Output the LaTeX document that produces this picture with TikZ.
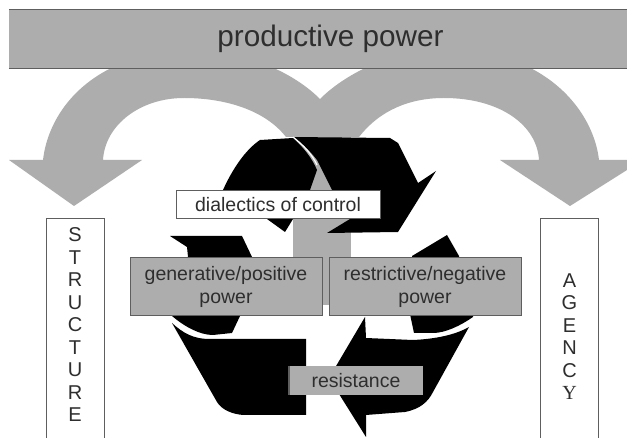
\documentclass[tikz,border=0pt]{standalone}
\usepackage{fontspec}
\setmainfont{Liberation Sans}
\newfontfamily\yfont{Liberation Serif}
\usetikzlibrary{positioning}
\definecolor{powergray}{HTML}{ADADAD}
\definecolor{edgegray}{HTML}{5E5E5E}
\definecolor{inkgray}{HTML}{2E2E2E}
\begin{document}
\begin{tikzpicture}[x=1pt, y=-1pt, every node/.style={font=\fontsize{19.5}{23}\selectfont, text=inkgray, inner sep=0pt, align=center},
  banner/.style={fill=powergray, minimum width=643pt, minimum height=58pt, font=\fontsize{29.7}{34}\selectfont},
  control/.style={draw=edgegray, line width=1pt, fill=white, minimum width=204pt, minimum height=28pt},
  power/.style={draw=edgegray, line width=1pt, fill=powergray, minimum width=192pt, minimum height=58pt},
  resist/.style={fill=powergray, minimum width=134pt, minimum height=29pt},
  sidebox/.style={draw=edgegray, line width=1pt, fill=white, anchor=north, minimum width=58pt, minimum height=226pt},
  letters/.style={font=\fontsize{20}{22.5}\selectfont},
  flow/.style={fill=powergray},
  loopshape/.style={fill=black}
]
\clip (0,0) rectangle (627,438);
\fill[white] (0,0) rectangle (627,438);

% Big arrows
\path[flow] (74,206) -- (142,160) -- (103,160) .. controls (105,125) and (140,98) .. (184,98)
  .. controls (225,98) and (265,110) .. (286,137) -- (359,137)
  .. controls (380,110) and (410,98) .. (444,98) .. controls (500,98) and (537,125) .. (539,160)
  -- (500,160) -- (570,206) -- (627,170) -- (627,160) -- (599,160)
  .. controls (595,125) and (570,85) .. (522,64) -- (374,64) .. controls (355,72) and (335,84) .. (320,99)
  .. controls (305,84) and (285,72) .. (264,64) -- (120,64)
  .. controls (70,85) and (47,125) .. (43,160) -- (9,160) -- cycle;
\path[flow] (293,137) rectangle (351,257);
\path[flow] (322,257) rectangle (329,305);

% Recycling loop
\path[loopshape] (293,138) -- (260,140) .. controls (245,150) and (232,170) .. (223,190) -- (267,219) -- (285,232) -- (293,219)
  -- (310,190) -- (317,170) .. controls (312,158) and (303,147) .. cycle;
\path[loopshape] (293,137) -- (390,138) -- (398,143) -- (418,183) -- (436,171) -- (398,232) -- (327,233) -- (350,219)
  -- (332,190) -- (317,160) .. controls (310,151) and (302,143) .. cycle;
\path[loopshape] (170,236) -- (242,236) -- (252,257) -- (252,280) -- (188,280) -- (188,257) -- (187,247) -- cycle;
\path[loopshape] (172,316) -- (172,300) -- (240,300) -- (240,316) -- (232,333) -- (213,335) .. controls (200,335) and (185,327) .. cycle;
\path[loopshape] (172,323) .. controls (183,333) and (193,339) .. (210,339) -- (306,339) -- (306,415) -- (243,415)
  .. controls (232,414) and (222,410) .. (217,402) -- cycle;
\path[loopshape] (447,235) -- (412,256) -- (412,280) -- (459,280) -- (459,256) -- cycle;
\path[loopshape] (407,300) -- (473,300) -- (473,317) .. controls (460,326) and (445,333) .. (433,333) -- (414,333) -- cycle;
\path[loopshape] (365,317) -- (366,338) -- (413,340) .. controls (435,339) and (455,335) .. (469,327) -- (433,392)
  .. controls (428,402) and (420,409) .. (405,412) -- (366,415) -- (366,437) -- (329,378) -- cycle;
\draw[white, line width=1.2pt] (293,137) .. controls (303,145) and (312,154) .. (317,165);

% Labels
\node[banner] (prod) at (330.5,39) {productive power};
\draw[edgegray, line width=1pt] (prod.north west) -- (prod.north east);
\draw[edgegray, line width=1pt] (prod.south west) -- (prod.south east);
\node[control] (dial) at (278,205) {dialectics of control};
\node[power] (gen) at (226,287) {generative/positive\\power};
\node[power] (restr) at (425,287) {restrictive/negative\\power};
\node[resist] (res) at (356,380.5) {resistance};
\draw[edgegray, line width=1.5pt] (res.north west) -- (res.south west);

% Side columns
\node[sidebox] (struct) at (75,218) {};
\node[sidebox] (agency) at (569.5,218) {};
\node[letters] (structtxt) at (75,325) {S\\T\\R\\U\\C\\T\\U\\R\\E};
\node[letters] (agencytxt) at (569.5,336.5) {A\\G\\E\\N\\C\\{\yfont Y}};

\end{tikzpicture}
\end{document}
